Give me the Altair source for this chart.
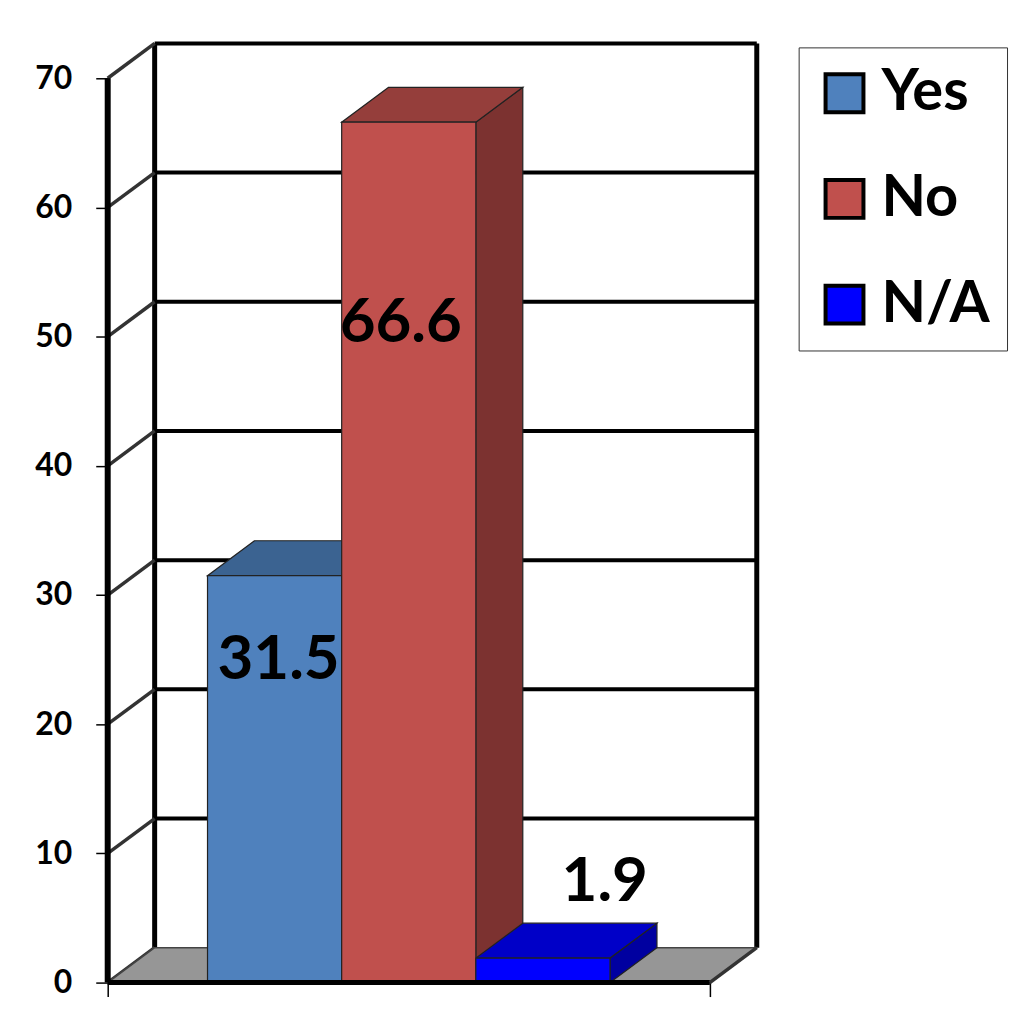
import altair as alt
import pandas as pd

# ---- data ----
cats = ["Yes", "No", "N/A"]
values = [31.5, 66.6, 1.9]
label_texts = ["31.5", "66.6", "1.9"]
front_colors = ["#4F81BD", "#C0504D", "#0000FF"]
top_colors = ["#3B6391", "#953E3B", "#0000C8"]
side_colors = ["#2E4D73", "#7C3230", "#0000A0"]
ticks = [0, 10, 20, 30, 40, 50, 60, 70]

# ---- 3-D geometry (in data units) ----
GAP = 0.744      # gap between wall and first/last bar
BW = 1.0         # bar width
DX = 0.35        # depth offset, horizontal
DY = 2.7         # depth offset, vertical (value units)
YMAX = 70
XR = 2 * GAP + 3 * BW

xsc = alt.Scale(domain=[0, XR + DX], nice=False, zero=False)
ysc = alt.Scale(domain=[0, YMAX + DY], nice=False, zero=False)
xaxis = alt.Axis(values=[0, XR], labels=False, domain=False, grid=False, tickSize=14,
                 tickWidth=1.5, tickColor="black", title=None)
yaxis = alt.Axis(values=ticks, domain=False, grid=False, tickSize=12, tickWidth=1.5,
                 tickColor="black", labelFont="Lato", labelFontSize=32, labelFontWeight="bold",
                 labelColor="black", labelPadding=24, title=None)


def X(f):
    return alt.X(f, type="quantitative", scale=xsc, axis=xaxis)


def Y(f):
    return alt.Y(f, type="quantitative", scale=ysc, axis=yaxis)


# back wall grid lines
grid_df = pd.DataFrame({"y": [t + DY for t in ticks[1:]], "x": DX, "x2": XR + DX})
grid = alt.Chart(grid_df).mark_rule(color="black", strokeWidth=4).encode(
    x=X("x"), x2="x2", y=Y("y"))

back_v_df = pd.DataFrame({"x": [DX, XR + DX], "y": DY, "y2": YMAX + DY})
back_v = alt.Chart(back_v_df).mark_rule(color="black", strokeWidth=5).encode(
    x=X("x"), y=Y("y"), y2="y2")

# left wall diagonals
diag_rows = []
for t in ticks:
    diag_rows.append({"t": t, "x": 0, "y": t})
    diag_rows.append({"t": t, "x": DX, "y": t + DY})
diag = alt.Chart(pd.DataFrame(diag_rows)).mark_line(color="#333333", strokeWidth=3.5).encode(
    x=X("x"), y=Y("y"), detail="t:N")

# floor
floor_df = pd.DataFrame({"y": [0, DY], "x": [0, DX], "x2": [XR, XR + DX]})
floor = alt.Chart(floor_df).mark_area(orient="horizontal", color="#969696", stroke="#444444",
                                      strokeWidth=1.5).encode(y=Y("y"), x=X("x"), x2="x2")

# bars
side_rows, top_rows, front_rows = [], [], []
for i, (c, v) in enumerate(zip(cats, values)):
    x0 = GAP + i * BW
    x1 = x0 + BW
    front_rows.append({"cat": c, "x0": x0, "x1": x1, "y0": 0, "v": v})
    side_rows.append({"key": c, "x": x1, "y": 0, "y2": v, "col": side_colors[i]})
    side_rows.append({"key": c, "x": x1 + DX, "y": DY, "y2": v + DY, "col": side_colors[i]})
    top_rows.append({"key": c, "y": v, "x": x0, "x2": x1, "col": top_colors[i]})
    top_rows.append({"key": c, "y": v + DY, "x": x0 + DX, "x2": x1 + DX, "col": top_colors[i]})

sides = alt.Chart(pd.DataFrame(side_rows)).mark_area(
    orient="vertical", stroke="#222222", strokeWidth=1.2).encode(
    x=X("x"), y=Y("y"), y2="y2", fill=alt.Fill("col:N", scale=None), detail="key:N")

tops = alt.Chart(pd.DataFrame(top_rows)).mark_area(
    orient="horizontal", stroke="#222222", strokeWidth=1.2).encode(
    y=Y("y"), x=X("x"), x2="x2", fill=alt.Fill("col:N", scale=None), detail="key:N")

fronts = alt.Chart(pd.DataFrame(front_rows)).mark_rect(
    stroke="#222222", strokeWidth=1.2).encode(
    x=X("x0"), x2="x1", y=Y("y0"), y2="v",
    color=alt.Color("cat:N", scale=alt.Scale(domain=cats, range=front_colors),
                    legend=alt.Legend(title=None, orient="none", legendX=693, legendY=4,
                                      direction="vertical", symbolType="square",
                                      symbolSize=1444, symbolStrokeColor="black",
                                      symbolStrokeWidth=4, symbolOpacity=1,
                                      labelFont="Lato", labelFontSize=58,
                                      labelFontWeight="bold", labelColor="black",
                                      labelOffset=8, rowPadding=48, padding=17,
                                      strokeColor="#333333", labelLimit=400)))

# front edges
base_df = pd.DataFrame({"x": [0], "x2": [XR], "y": [0]})
base = alt.Chart(base_df).mark_rule(color="black", strokeWidth=5).encode(
    x=X("x"), x2="x2", y=Y("y"))
axis_df = pd.DataFrame({"x": [0], "y": [0], "y2": [YMAX]})
axis_line = alt.Chart(axis_df).mark_rule(color="black", strokeWidth=6).encode(
    x=X("x"), y=Y("y"), y2="y2")
rdiag_df = pd.DataFrame({"x": [XR, XR + DX], "y": [0, DY]})
rdiag = alt.Chart(rdiag_df).mark_line(color="#333333", strokeWidth=3.5).encode(
    x=X("x"), y=Y("y"))

# value labels
label_offsets = [(4, 85), (-8, 201), (62, -76)]
texts = []
for i, (c, v) in enumerate(zip(cats, values)):
    df = pd.DataFrame({"x": [GAP + i * BW + BW / 2], "v": [v], "label": [label_texts[i]]})
    ddx, ddy = label_offsets[i]
    texts.append(alt.Chart(df).mark_text(font="Lato", fontSize=62, fontWeight="bold",
                                         color="black", align="center", baseline="middle",
                                         dx=ddx, dy=ddy).encode(
        x=X("x"), y=Y("v"), text="label:N"))

chart = alt.layer(grid, back_v, diag, floor, sides, tops, fronts, base, axis_line, rdiag,
                  *texts).properties(
    width=651, height=942,
    autosize=alt.AutoSizeParams(type="none"),
    padding={"left": 100, "top": 34, "right": 260, "bottom": 30},
    background="white",
).configure_view(stroke=None)

chart.save("out.html", embed_options={"renderer": "svg", "actions": False})
